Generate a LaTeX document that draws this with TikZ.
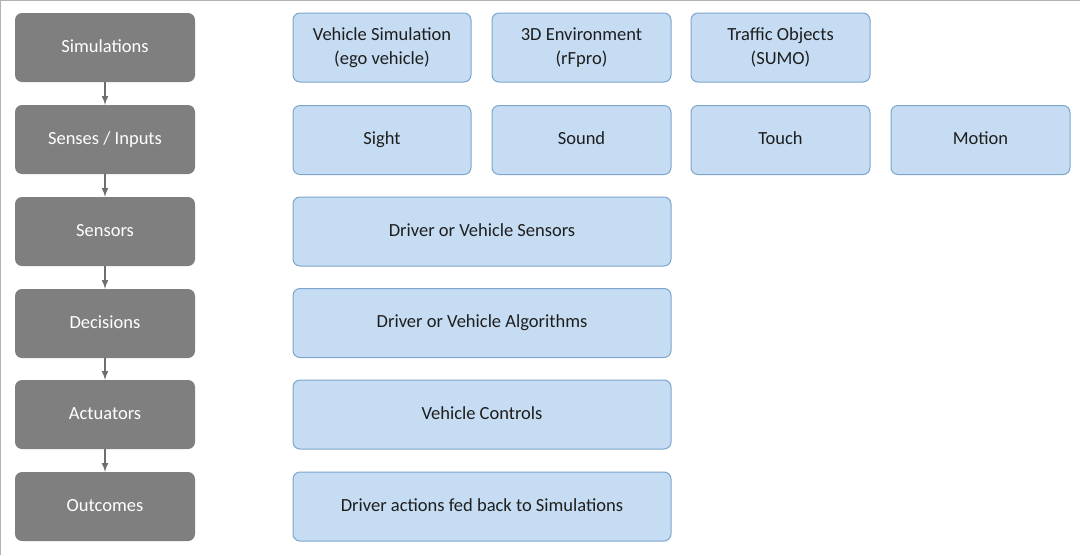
\documentclass[tikz,border=0pt]{standalone}
\usepackage{fontspec}
\setmainfont{Carlito}
\begin{document}
\begin{tikzpicture}[x=1pt,y=-1pt,
  gbox/.style={draw=none,fill={rgb,255:red,127;green,127;blue,127},rounded corners=7pt,text=white,font=\fontsize{18.5}{24}\selectfont,align=center,inner sep=0pt,text height=13pt,text depth=4pt},
  bbox/.style={draw={rgb,255:red,125;green,165;blue,205},line width=1pt,fill={rgb,255:red,197;green,220;blue,242},rounded corners=7pt,text={rgb,255:red,30;green,30;blue,30},font=\fontsize{18.5}{24}\selectfont,align=center,inner sep=0pt},
  one/.style={text height=13pt,text depth=4pt},
  arr/.style={-latex,draw={rgb,255:red,110;green,110;blue,110},line width=2pt}]
\useasboundingbox (0,0) rectangle (1080,555);
\draw[gray!60] (0.5,555) -- (0.5,0.5) -- (1080,0.5);
\foreach \n/\t/\y in {s1/Simulations/13,s2/{Senses / Inputs}/105,s3/Sensors/197,s4/Decisions/289,s5/Actuators/380,s6/Outcomes/472}
  \node[gbox,minimum width=180,minimum height=69] (\n) at (105,\y+34.5) {\t};
\foreach \a/\b in {s1/s2,s2/s3,s3/s4,s4/s5,s5/s6}
  \draw[arr] (\a) -- (\b);
\node[bbox,minimum width=178,minimum height=69] (v) at (382,47.5) {Vehicle Simulation\\(ego vehicle)};
\node[bbox,minimum width=179,minimum height=69] (e) at (581.5,47.5) {3D Environment\\(rFpro)};
\node[bbox,minimum width=179,minimum height=69] (t) at (780.5,47.5) {Traffic Objects\\(SUMO)};
\node[bbox,one,minimum width=178,minimum height=69] (si) at (382,140) {Sight};
\node[bbox,one,minimum width=179,minimum height=69] (so) at (581.5,140) {Sound};
\node[bbox,one,minimum width=179,minimum height=69] (to) at (780.5,140) {Touch};
\node[bbox,one,minimum width=179,minimum height=69] (mo) at (980.5,140) {Motion};
\node[bbox,one,minimum width=378,minimum height=69] (ds) at (482,231.5) {Driver or Vehicle Sensors};
\node[bbox,one,minimum width=378,minimum height=69] (da) at (482,323) {Driver or Vehicle Algorithms};
\node[bbox,one,minimum width=378,minimum height=69] (vc) at (482,414.5) {Vehicle Controls};
\node[bbox,one,minimum width=378,minimum height=69] (dr) at (482,506.5) {Driver actions fed back to Simulations};
\end{tikzpicture}
\end{document}
